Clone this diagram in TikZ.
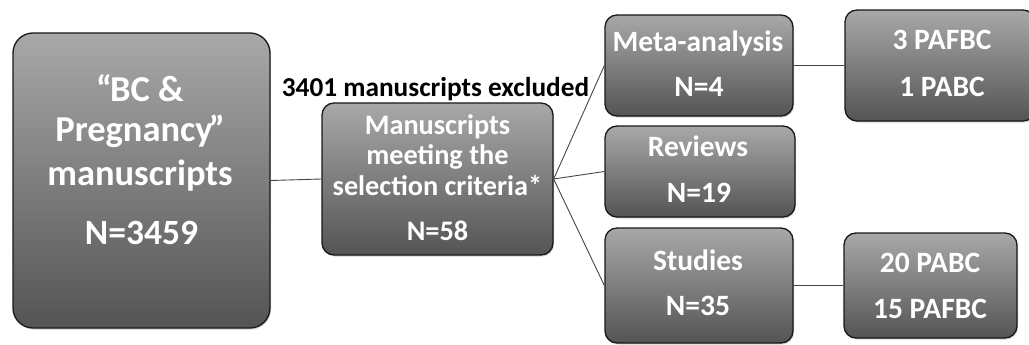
\documentclass[tikz,border=0pt]{standalone}
\usepackage{fontspec}
\setmainfont{Carlito}
\usetikzlibrary{shadows}
\definecolor{boxtop}{RGB}{168,168,168}
\definecolor{boxbot}{RGB}{84,84,84}
\definecolor{boxline}{RGB}{25,25,25}
\definecolor{wire}{RGB}{70,70,70}
\begin{document}
\begin{tikzpicture}[x=1pt,y=-1pt,
  box/.style={rectangle, rounded corners=12pt, draw=boxline, line width=1.3pt,
    top color=boxtop, bottom color=boxbot, inner sep=0pt,
    drop shadow={shadow xshift=1pt, shadow yshift=-1.5pt, opacity=0.35}},
  bigtxt/.style={anchor=base, text=white, font=\fontsize{36.5}{40}\selectfont\bfseries, inner sep=0pt},
  midtxt/.style={anchor=base, text=white, font=\fontsize{28.3}{32}\selectfont\bfseries, inner sep=0pt},
  txt/.style={anchor=base, text=white, font=\fontsize{29.5}{32}\selectfont\bfseries, inner sep=0pt},
  note/.style={anchor=base, text=black, font=\fontsize{27.3}{30}\selectfont\bfseries, inner sep=0pt},
  link/.style={draw=wire, line width=0.9pt}]
\useasboundingbox (0,0) rectangle (1029,345);

% boxes
\node[box, rounded corners=20pt, minimum width=257pt, minimum height=295pt] (A) at (141.5,180.5) {};
\node[box, minimum width=231pt, minimum height=152pt] (B) at (437.5,179) {};
\node[box, minimum width=188pt, minimum height=101pt] (meta) at (699,65.5) {};
\node[box, minimum width=190pt, minimum height=91pt] (rev) at (700,171.5) {};
\node[box, minimum width=188pt, minimum height=115pt] (stud) at (699,285.5) {};
\node[box, minimum width=190pt, minimum height=111pt] (metaR) at (940,65.5) {};
\node[box, minimum width=173pt, minimum height=105pt] (studR) at (930.5,285.5) {};

% connectors
\draw[link] (A.east) -- (B.west);
\draw[link] (B.east) -- (meta.west);
\draw[link] (B.east) -- (rev.west);
\draw[link] (B.east) -- (stud.west);
\draw[link] (meta.east) -- (metaR.west);
\draw[link] (stud.east) -- (studR.west);

% texts
\node[bigtxt] (a1) at (140,102) {“\kern-2pt BC \&};
\node[bigtxt] (a2) at (140,142) {Pregnancy\kern-4pt”};
\node[bigtxt] (a3) at (140,185) {manuscripts};
\node[bigtxt, font=\fontsize{35.5}{40}\selectfont\bfseries] (a4) at (141.5,244) {N=3459};

\node[midtxt] (b1) at (437.5,134) {Manuscripts};
\node[midtxt] (b2) at (437.5,164) {meeting the};
\node[midtxt] (b3) at (437.5,195) {selection criteria*};
\node[midtxt] (b4) at (437.5,240) {N=58};

\node[txt] (m1) at (698,52) {Meta-analysis};
\node[txt] (m2) at (699,97) {N=4};
\node[txt] (r1) at (698,157) {Reviews};
\node[txt] (r2) at (699,202) {N=19};
\node[txt] (s1) at (698,270) {Studies};
\node[txt] (s2) at (698,315) {N=35};

\node[txt] (mr1) at (942,50) {3 PAFBC};
\node[txt] (mr2) at (942,97) {1 PABC};
\node[txt] (sr1) at (930,272) {20 PABC};
\node[txt] (sr2) at (930,318) {15 PAFBC};

\node[note] (excl) at (435.5,97) {3401 manuscripts excluded};
\end{tikzpicture}
\end{document}
